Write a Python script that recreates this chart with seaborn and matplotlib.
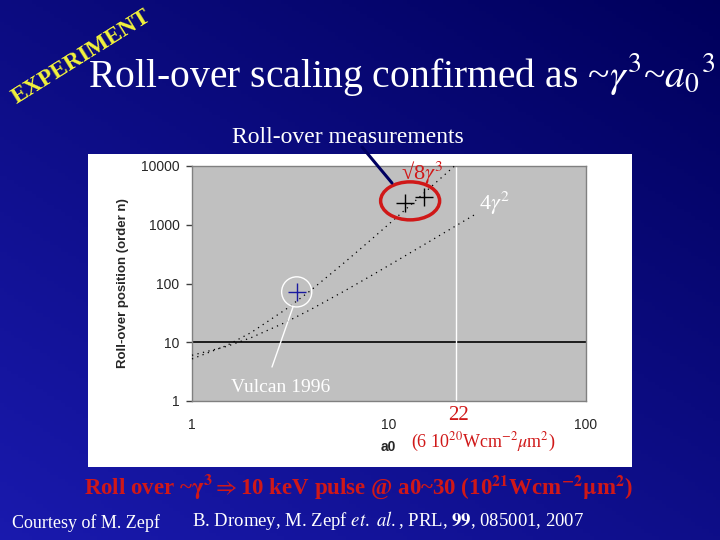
import numpy as np
import matplotlib
matplotlib.use("Agg")
import matplotlib.pyplot as plt
import matplotlib.transforms as mtransforms
from matplotlib.patches import Rectangle, Ellipse
from matplotlib.lines import Line2D
import seaborn as sns

# Values
a0_theory = [1, 1.5, 2, 3, 4, 6, 8, 10, 15, 22]
n_sqrt8_g3 = [5.2, 8.8, 14.7, 36.5, 76, 234, 536, 1030, 3420, 10700]
a0_theory_b = [1, 1.5, 2, 3, 4, 6, 8, 10, 15, 22, 27]
n_4g2 = [6, 8.5, 12, 22, 36, 76, 132, 204, 454, 972, 1460]

a0_vulcan = [3.4]
n_vulcan = [72]
a0_meas = [12, 15]
n_meas = [2360, 3000]

x_ticks = [1, 10, 100]
x_labels = ["1", "10", "100"]
y_ticks = [1, 10, 100, 1000, 10000]
y_labels = ["1", "10", "100", "1000", "10000"]
a0_marked = 22
n_ref = 10

sns.set_style("white")
plt.rcParams["font.family"] = ["Liberation Serif", "DejaVu Serif"]
plt.rcParams["mathtext.fontset"] = "stix"
SANS = ["Liberation Sans", "DejaVu Sans"]
RED = "#d01818"

W, H = 720, 540
fig = plt.figure(figsize=(7.2, 5.4), dpi=100)


def fx(x):
    return x / W


def fy(y):
    return 1 - y / H


# slide background (dark blue gradient)
bg = fig.add_axes([0, 0, 1, 1], zorder=-10)
xx, yy = np.meshgrid(np.linspace(0, 1, 200), np.linspace(0, 1, 150))
t = 0.45 * (1 - xx) + 0.55 * yy
dark = np.array([0.0, 0.0, 0.36])
bright = np.array([0.10, 0.10, 0.68])
img = dark[None, None, :] + t[:, :, None] * (bright - dark)[None, None, :]
bg.imshow(img, aspect="auto", extent=[0, 1, 0, 1], origin="upper")
bg.axis("off")

# white chart panel
fig.add_artist(Rectangle((fx(88), fy(467)), fx(632) - fx(88), fy(154) - fy(467),
                         transform=fig.transFigure, facecolor="white",
                         edgecolor="none", zorder=0))

ax = fig.add_axes([fx(192), fy(401), fx(586) - fx(192), fy(166) - fy(401)], zorder=1)
ax.set_facecolor("#c0c0c0")
ax.set_xscale("log")
ax.set_yscale("log")

ax.axhline(n_ref, color="black", lw=1.2, zorder=2)
ax.axvline(a0_marked, color="white", lw=1, zorder=2)

dots = (0, (1, 3.5))
sns.lineplot(x=a0_theory, y=n_sqrt8_g3, ax=ax, color="black", lw=0.9,
             linestyle=dots, estimator=None, clip_on=False, zorder=3)
sns.lineplot(x=a0_theory_b, y=n_4g2, ax=ax, color="black", lw=0.9,
             linestyle=dots, estimator=None, clip_on=False, zorder=3)

sns.scatterplot(x=a0_vulcan, y=n_vulcan, ax=ax, marker="+", s=150,
                color="#1a1aa0", linewidth=1, zorder=4)
sns.scatterplot(x=a0_vulcan, y=n_vulcan, ax=ax, marker="o", s=470,
                facecolor="none", edgecolor="white", linewidth=1, zorder=4)
sns.scatterplot(x=a0_meas, y=n_meas, ax=ax, marker="+", s=150,
                color="black", linewidth=1, zorder=4)

# red ellipse round the new measurements
ell_tr = fig.dpi_scale_trans + mtransforms.ScaledTranslation(12.8, 2550, ax.transData)
ax.add_artist(Ellipse((0, 0), 0.59, 0.38, transform=ell_tr, fill=False,
                      edgecolor=RED, lw=2.5, clip_on=False, zorder=5))

ax.set_xlim(1, 100)
ax.set_ylim(1, 10000)
ax.set_xticks(x_ticks, x_labels)
ax.set_yticks(y_ticks, y_labels)
ax.minorticks_off()
ax.tick_params(axis="x", length=0, pad=12, labelsize=10)
ax.tick_params(axis="y", left=True, length=4, width=1, color="#404040",
               pad=5, labelsize=10)
for lab in ax.get_xticklabels() + ax.get_yticklabels():
    lab.set_family(SANS)
for sp in ax.spines.values():
    sp.set_color("#808080")
    sp.set_linewidth(1)
ax.set_xlabel("")
ax.set_ylabel("")

fig.text(fx(123), fy(283), "Roll-over position (order n)", rotation=90,
         ha="center", va="center", fontsize=9.5, fontweight="bold", family=SANS)
fig.text(fx(388), fy(447), "a0", ha="center", va="center", fontsize=10,
         fontweight="bold", family=SANS)

# annotations on the chart
fig.text(fx(348), fy(137), "Roll-over measurements", ha="center", va="center",
         fontsize=17, color="white")
fig.add_artist(Line2D([fx(362), fx(392)], [fy(147), fy(183)],
                      transform=fig.transFigure, color="#000060", lw=2.2, zorder=6))
fig.text(fx(422), fy(172), r"√8$\gamma^3$", ha="center", va="center",
         fontsize=16, color=RED, zorder=7)
fig.text(fx(495), fy(203), r"4$\gamma^2$", ha="center", va="center",
         fontsize=16, color="white", zorder=7)
fig.add_artist(Line2D([fx(293), fx(272)], [fy(307), fy(367)],
                      transform=fig.transFigure, color="white", lw=1, zorder=6))
fig.text(fx(281), fy(387), "Vulcan 1996", ha="center", va="center",
         fontsize=14, color="white", zorder=7)
fig.text(fx(459), fy(415), "22", ha="center", va="center", fontsize=15, color=RED)
fig.text(fx(483), fy(442), r"(6 10$^{20}$Wcm$^{-2}\mu$m$^2$)", ha="center",
         va="center", fontsize=13, color=RED)

# slide title and labels
fig.text(fx(88), fy(87), r"Roll-over scaling confirmed as ~$\gamma^3$~$a_0{}^3$",
         ha="left", va="baseline", fontsize=28.5, color="white")
fig.text(fx(81), fy(57), "EXPERIMENT", rotation=32, ha="center", va="center",
         fontsize=17, fontweight="bold", color="#f2f23c", rotation_mode="anchor")
fig.text(fx(359), fy(487),
         r"Roll over ~$\mathbf{\gamma^3}\Rightarrow$10 keV pulse @ a0~30 (10$^{\mathbf{21}}$Wcm$^{\mathbf{-2}}\mathbf{\mu}$m$^{\mathbf{2}}$)",
         ha="center", va="center", fontsize=16.5, fontweight="bold", color=RED)
fig.text(fx(12), fy(523), "Courtesy of M. Zepf", ha="left", va="center",
         fontsize=13, color="white")
fig.text(fx(192), fy(521),
         r"B. Dromey, M. Zepf $\mathit{et.\ al.}$, PRL, $\mathbf{99}$, 085001, 2007",
         ha="left", va="center", fontsize=13.5, color="white")

fig.savefig("out.png", dpi=100)
